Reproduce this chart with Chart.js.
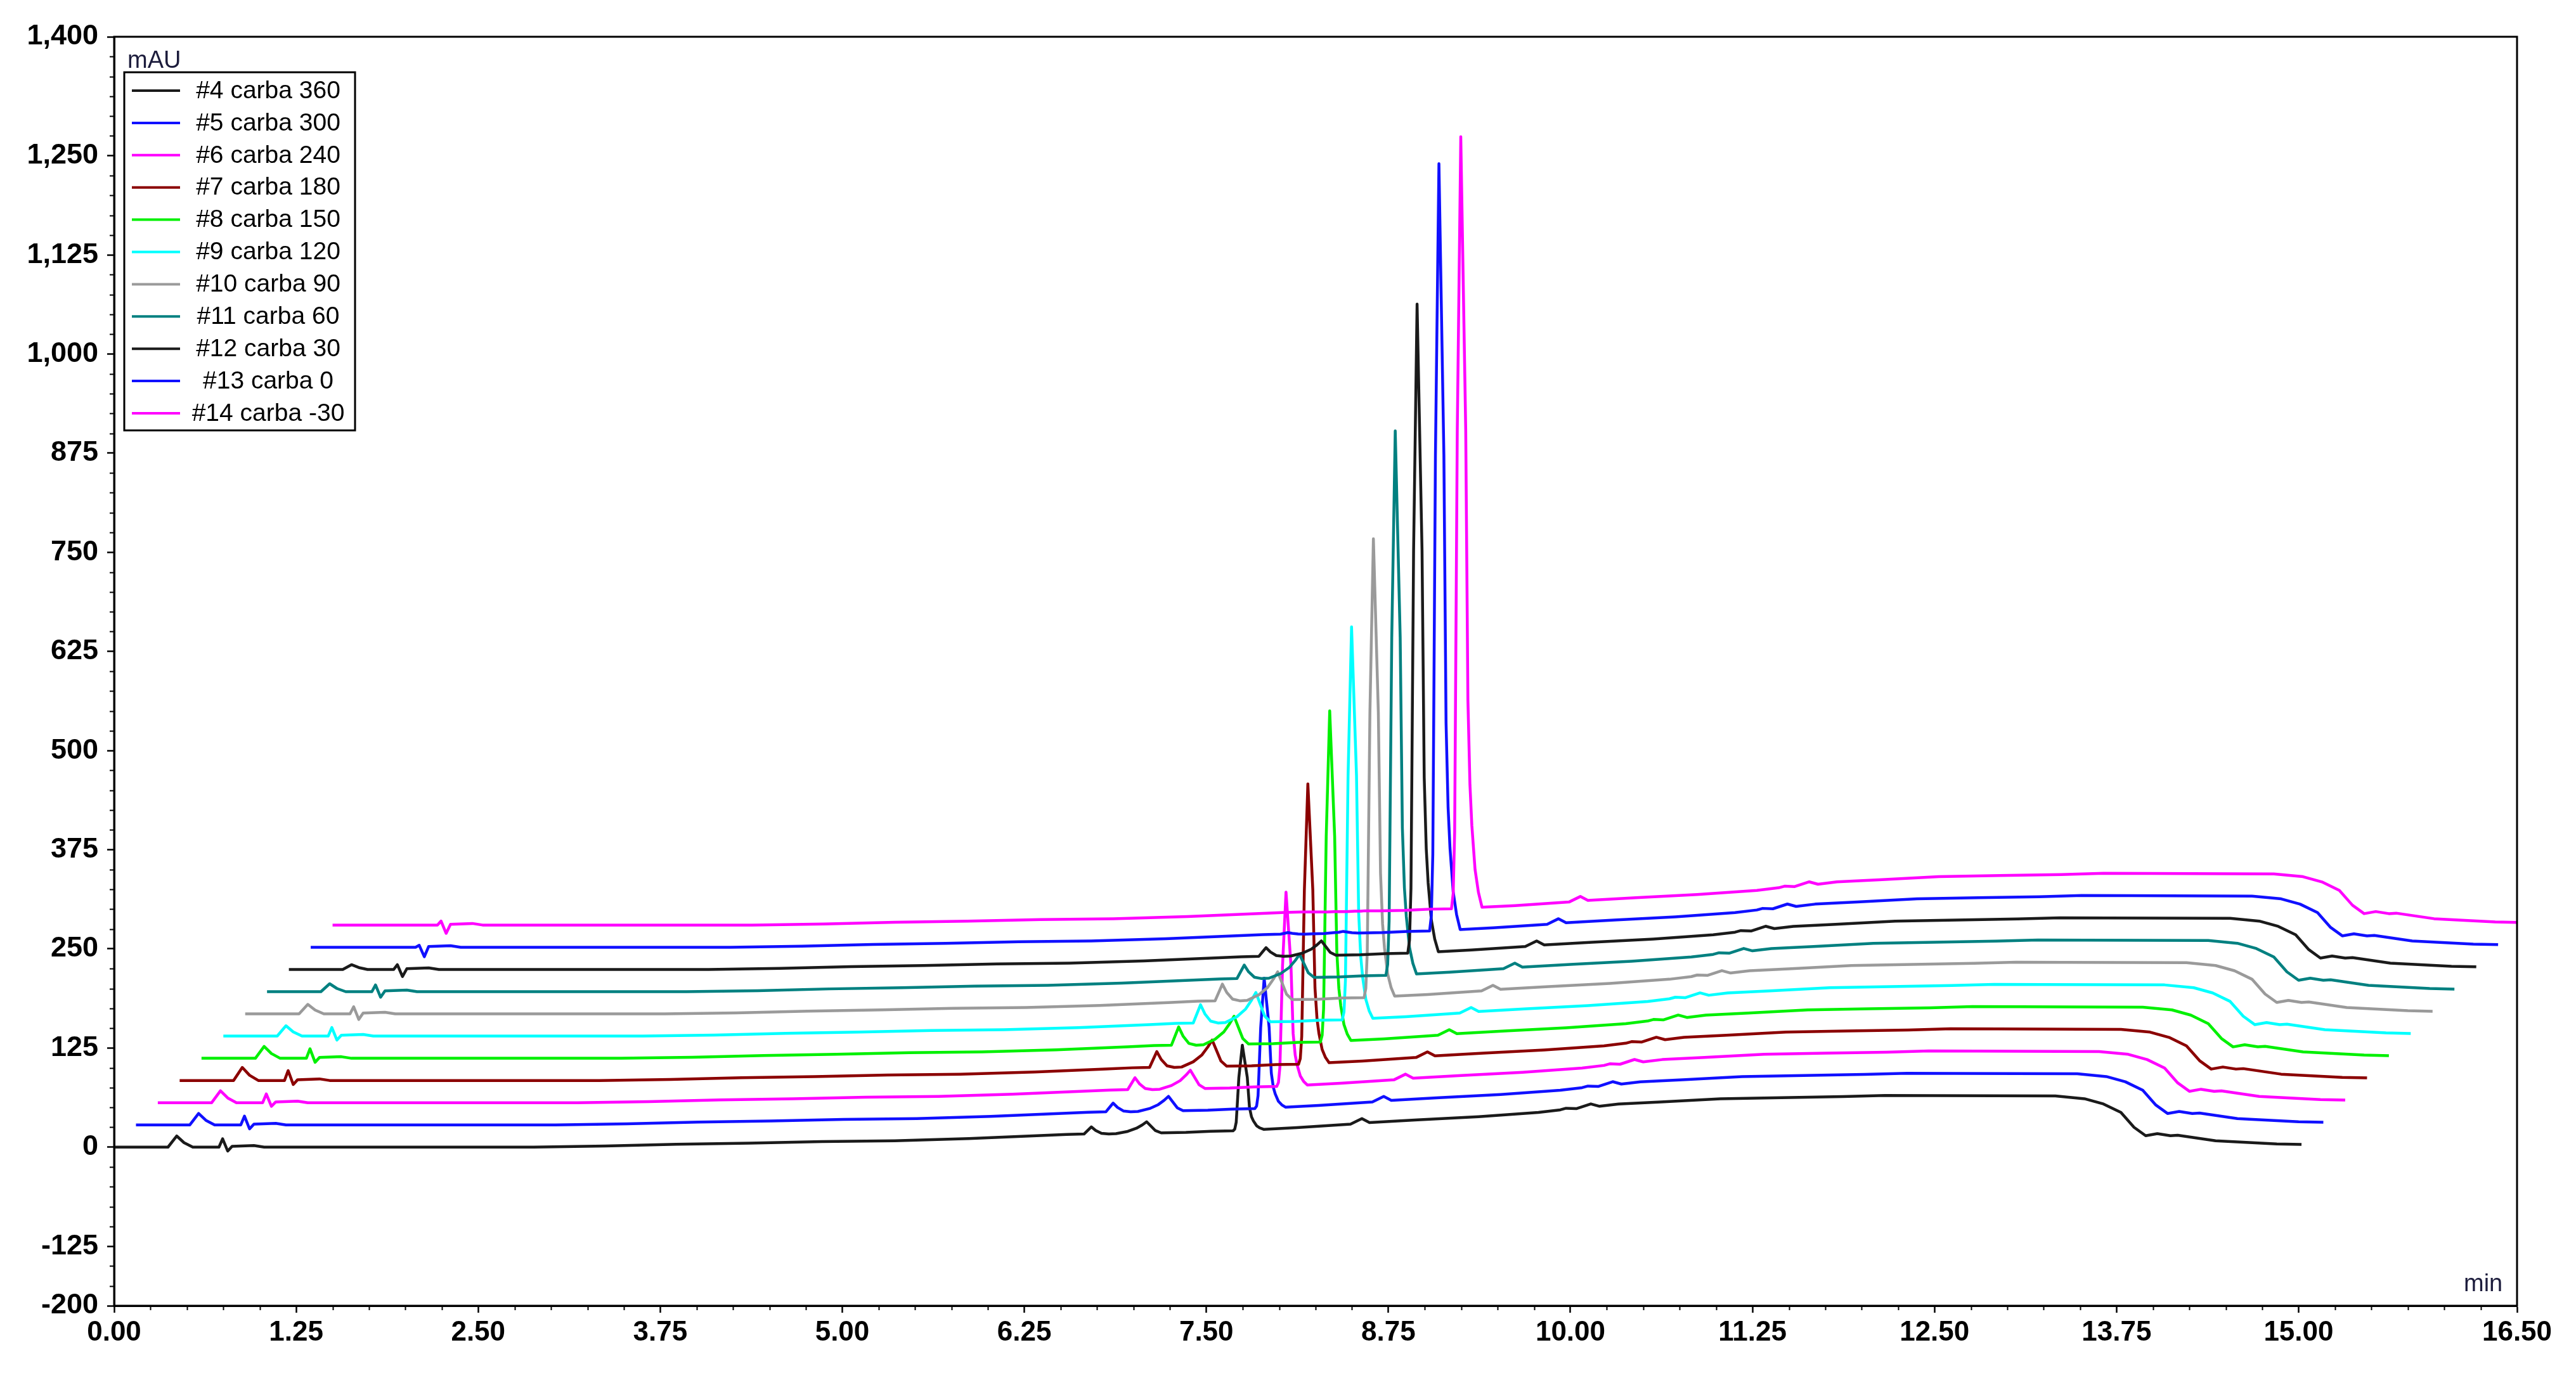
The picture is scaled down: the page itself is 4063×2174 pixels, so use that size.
<!DOCTYPE html>
<html>
<head>
<meta charset="utf-8">
<title>carba overlay</title>
<script src="https://cdn.jsdelivr.net/npm/chart.js@4.4.1/dist/chart.umd.min.js"></script>
<style>
  html, body { margin: 0; padding: 0; background: #fff; }
  #wrap { width: 4063px; height: 2174px; position: relative; }
</style>
</head>
<body>
<div id="wrap"><canvas id="chart"></canvas></div>
<script>
// traces, bottom to top, same order as the legend
const traceNames = ['#4 carba 360', '#5 carba 300', '#6 carba 240', '#7 carba 180', '#8 carba 150',
  '#9 carba 120', '#10 carba 90', '#11 carba 60', '#12 carba 30', '#13 carba 0', '#14 carba -30'];
const traceColors = ['#1a1a1a', '#1010ff', '#ff00ff', '#8b0000', '#00f000',
  '#00ffff', '#9a9a9a', '#008080', '#1a1a1a', '#1010ff', '#ff00ff'];

// overlay offset of every trace (min, mAU)
const xShift = [0, 0.15, 0.30, 0.45, 0.60, 0.75, 0.90, 1.05, 1.20, 1.35, 1.50];
const yShift = [0, 28, 56, 84, 112, 140, 168, 196, 224, 252, 280];

// peak heights of each trace, mAU
const earlyBump = [14, 14.5, 15, 16.5, 15, 13, 12, 10, 6, 0, 0];
const spikeUp   = [10.5, 11, 11, 12.5, 12, 10.7, 9, 8.5, 6, 2.5, 5];
const spikeDown = [-5, -5, -4.5, -5, -5, -5, -7, -7, -9, -12, -10.5];
const impurity1 = [9, 11, 15, 20, 23, 23, 21, 17, 11, 2, 0];
const impurity2 = [14, 18, 23, 33, 35, 37, 35, 29, 18, 2, 0];
const mainPeak  = [108, 164.5, 245, 353.5, 417.5, 495.5, 578.5, 686.5, 818.5, 967.5, 973.5];

// shared profile in each trace's own time: baseline drift + where the peaks sit
const profTime = [0.00, 0.37, 0.43, 0.48, 0.54, 0.72, 0.745, 0.78, 0.81, 0.96, 1.03, 2.88,
  3.37, 3.86, 4.36, 4.86, 5.36, 5.87, 6.36, 6.54,
  6.66, 6.69, 6.71, 6.74, 6.78, 6.83,
  6.88, 6.96, 7.02, 7.06, 7.09, 7.12, 7.15, 7.19, 7.36, 7.53,
  7.683, 7.695, 7.705, 7.711, 7.723, 7.747, 7.781, 7.796, 7.81, 7.823, 7.845, 7.868, 7.893,
  8.12, 8.49, 8.568, 8.62, 8.95, 9.37, 9.78, 9.93, 9.97, 10.04, 10.14, 10.20, 10.33, 10.62,
  11.03, 11.45, 11.87, 12.16, 12.49, 13.33, 13.53, 13.66, 13.78, 13.87, 13.95, 14.03, 14.12,
  14.17, 14.43, 14.85, 15.02];
const profBase = [0, 0, 0, 0, 0, 0, 0, 0, 1, 2, 0, 0,
  1.3, 3.5, 5, 7, 8, 10.7, 14.5, 16,
  16.5, 16.5, 16.5, 16.5, 16.5, 16.5,
  17, 17, 17.5, 17.5, 18, 18, 18, 18, 18.5, 20,
  20.5, 20.5, 20.5, 20.5, 20.5, 20.5, 21, 21, 21, 21.5, 21.5, 22, 22.4,
  24.5, 29, 36, 31, 34.4, 38.4, 43.7, 47, 49, 48.5, 54.5, 51.5, 54.4, 57,
  61, 62.4, 63.7, 65.2, 65, 64.5, 61, 54.4, 43.7, 25, 14.4, 17, 14.4,
  15, 8, 4, 3.3];
const profPeak = ['', 'bump', 'bump', 'bump', 'bump', '', 'up', 'down', '', '', '', '',
  '', '', '', '', '', '', '', '',
  'imp1', 'imp1', 'imp1', 'imp1', 'imp1', 'imp1',
  'imp2', 'imp2', 'imp2', 'imp2', 'imp2', 'imp2', 'imp2', 'imp2', '', '',
  'main', 'main', 'main', 'main', 'main', 'main', 'main', 'main', 'main', 'main', 'main', 'main', 'main',
  '', '', '', '', '', '', '', '', '', '', '', '', '', '',
  '', '', '', '', '', '', '', '', '', '', '', '', '',
  '', '', '', ''];
const profFrac = [0, 0, 1, 0.4, 0, 0, 1, 1, 0, 0, 0, 0,
  0, 0, 0, 0, 0, 0, 0, 0,
  0, 0.6, 1, 0.5, 0.1, 0,
  0, 0.2, 0.45, 0.75, 1, 0.6, 0.2, 0, 0, 0,
  0, 0.02, 0.1, 0.27, 0.62, 1, 0.62, 0.27, 0.16, 0.107, 0.05, 0.02, 0,
  0, 0, 0, 0, 0, 0, 0, 0, 0, 0, 0, 0, 0, 0,
  0, 0, 0, 0, 0, 0, 0, 0, 0, 0, 0, 0, 0,
  0, 0, 0, 0];

const yTicks = [-200, -125, 0, 125, 250, 375, 500, 625, 750, 875, 1000, 1125, 1250, 1400];
const xTicks = [0, 1.25, 2.5, 3.75, 5, 6.25, 7.5, 8.75, 10, 11.25, 12.5, 13.75, 15, 16.5];

const heights = { bump: earlyBump, up: spikeUp, down: spikeDown, imp1: impurity1, imp2: impurity2, main: mainPeak };

const datasets = traceNames.map((name, k) => {
  const pts = profTime.map((t, i) => {
    let v = profBase[i];
    if (profPeak[i]) v += heights[profPeak[i]][k] * profFrac[i];
    return { x: t + xShift[k], y: v + yShift[k] };
  });
  return {
    label: name,
    data: pts,
    borderColor: traceColors[k],
    borderWidth: 4.5,
    pointRadius: 0,
    tension: 0,
    fill: false,
    borderJoinStyle: 'round',
    order: 10 - k
  };
});

const FONT = '"Liberation Sans", Arial, sans-serif';

const decor = {
  id: 'decor',
  afterDraw(chart) {
    const ctx = chart.ctx;
    const a = chart.chartArea;
    const xs = chart.scales.x, ys = chart.scales.y;
    ctx.save();
    // frame
    ctx.strokeStyle = '#000';
    ctx.lineWidth = 3;
    ctx.strokeRect(a.left, a.top, a.right - a.left, a.bottom - a.top);
    // minor ticks
    ctx.lineWidth = 2;
    ctx.beginPath();
    for (let v = -200; v <= 1400; v += 25) {
      if (yTicks.includes(v)) continue;
      const py = Math.round(ys.getPixelForValue(v)) + 0.5;
      ctx.moveTo(a.left - 7, py); ctx.lineTo(a.left, py);
    }
    for (let i = 0; i <= 66; i++) {
      const v = i * 0.25;
      if (xTicks.includes(v)) continue;
      const px = Math.round(xs.getPixelForValue(v)) + 0.5;
      ctx.moveTo(px, a.bottom); ctx.lineTo(px, a.bottom + 7);
    }
    ctx.stroke();

    // axis units
    ctx.fillStyle = '#1c1c3c';
    ctx.font = '38px ' + FONT;
    ctx.textAlign = 'left';
    ctx.textBaseline = 'alphabetic';
    ctx.fillText('mAU', a.left + 21, a.top + 49);
    ctx.fillText('min', a.right - 84, a.bottom - 23);

    // legend box
    const bx = a.left + 16, by = a.top + 56, bw = 364, bh = 565;
    ctx.fillStyle = '#fff';
    ctx.fillRect(bx, by, bw, bh);
    ctx.lineWidth = 3;
    ctx.strokeStyle = '#000';
    ctx.strokeRect(bx, by, bw, bh);
    ctx.font = '39px ' + FONT;
    ctx.textAlign = 'center';
    ctx.textBaseline = 'middle';
    chart.data.datasets.forEach((ds, i) => {
      const cy = by + 29 + i * 50.9;
      ctx.strokeStyle = ds.borderColor;
      ctx.lineWidth = 4;
      ctx.beginPath();
      ctx.moveTo(bx + 12, cy); ctx.lineTo(bx + 88, cy);
      ctx.stroke();
      ctx.fillStyle = '#000';
      ctx.fillText(ds.label, bx + 227, cy + 1);
    });
    ctx.restore();
  }
};

new Chart(document.getElementById('chart'), {
  type: 'line',
  data: { datasets: datasets },
  options: {
    responsive: true,
    maintainAspectRatio: false,
    animation: false,
    layout: { padding: { top: 58, right: 93, left: 0, bottom: 0 } },
    plugins: { legend: { display: false }, tooltip: { enabled: false } },
    scales: {
      x: {
        type: 'linear',
        min: 0, max: 16.5,
        afterBuildTicks: s => { s.ticks = xTicks.map(v => ({ value: v })); },
        afterFit: s => { s.height = 114; },
        ticks: {
          autoSkip: false, maxRotation: 0, padding: 5, color: '#000',
          font: { family: FONT, size: 44, weight: 'bold' },
          callback: v => Number(v).toFixed(2)
        },
        grid: { drawOnChartArea: false, drawTicks: true, tickLength: 11, tickWidth: 2.5, tickColor: '#000' },
        border: { display: true, color: '#000', width: 3 }
      },
      y: {
        type: 'linear',
        min: -200, max: 1400,
        afterBuildTicks: s => { s.ticks = yTicks.map(v => ({ value: v })); },
        afterFit: s => { s.width = 180; },
        ticks: {
          autoSkip: false, padding: 14, color: '#000',
          font: { family: FONT, size: 45, weight: 'bold' },
          callback: v => Number(v).toLocaleString('en-US')
        },
        grid: { drawOnChartArea: false, drawTicks: true, tickLength: 11, tickWidth: 2.5, tickColor: '#000' },
        border: { display: true, color: '#000', width: 3 }
      }
    }
  },
  plugins: [decor]
});
</script>
</body>
</html>
